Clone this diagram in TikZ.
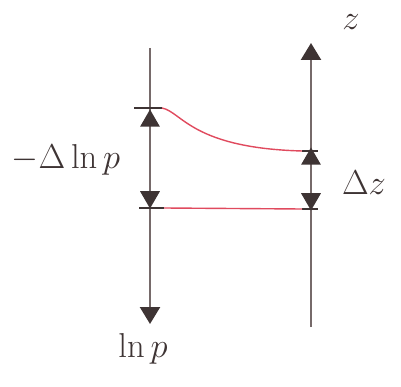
\documentclass[tikz,border=0pt]{standalone}
\usepackage{amsmath}
\usepackage{graphicx}
\usetikzlibrary{arrows.meta,shapes.geometric}
\definecolor{axisc}{HTML}{766A6A}
\definecolor{markc}{HTML}{3E3434}
\definecolor{redc}{HTML}{E04A5E}
\newcommand{\biglbl}[1]{\scalebox{2}{\LARGE #1}}
\tikzset{
  axis/.style={draw=axisc,line width=2.4pt,-{Triangle[length=17pt,width=20pt,color=markc]}},
  upmark/.style={regular polygon,regular polygon sides=3,fill=markc,minimum size=23pt,inner sep=0pt},
  downmark/.style={upmark,shape border rotate=180},
  tickmark/.style={draw=markc,line width=2.6pt},
  link/.style={draw=redc,line width=1.4pt},
  lbl/.style={text=markc,inner sep=1pt},
}
\begin{document}
\begin{tikzpicture}[x=1pt,y=-1pt]
  \useasboundingbox (0,0) rectangle (401,387);
  % axes
  \coordinate (ltop) at (150,48);
  \coordinate (lbot) at (150,324);
  \coordinate (rbot) at (311,327);
  \coordinate (rtop) at (311,43);
  \draw[axis] (ltop) -- (lbot);
  \draw[axis] (rbot) -- (rtop);
  % marks on ln p
  \node[upmark] (lup) at (150,121) {};
  \node[downmark] (ldown) at (150,197) {};
  \coordinate (ltw) at (134,108);
  \coordinate (lte) at (162,108);
  \coordinate (lbw) at (139,208);
  \coordinate (lbe) at (164,208);
  \draw[tickmark] (ltw) -- (lte);
  \draw[tickmark] (lbw) -- (lbe);
  % marks on z
  \node[upmark] (rup) at (311,159) {};
  \node[downmark] (rdown) at (311,199) {};
  \coordinate (rtw) at (302,151);
  \coordinate (rte) at (318,151);
  \coordinate (rbw) at (302,209);
  \coordinate (rbe) at (318,209);
  \draw[tickmark] (rtw) -- (rte);
  \draw[tickmark] (rbw) -- (rbe);
  % red links
  \draw[link] (lte) .. controls (182,112) and (192,148) .. (rtw);
  \draw[link] (lbe) -- (rbw);
  % labels
  \node[lbl] (dlnp) at (66,160) {\biglbl{$-\Delta\ln p$}};
  \node[lbl] (dz) at (364,183) {\biglbl{$\Delta z$}};
  \node[lbl] (zlbl) at (351,22) {\biglbl{$z$}};
  \node[lbl] (lnp) at (143,349) {\biglbl{$\ln p$}};
\end{tikzpicture}
\end{document}
